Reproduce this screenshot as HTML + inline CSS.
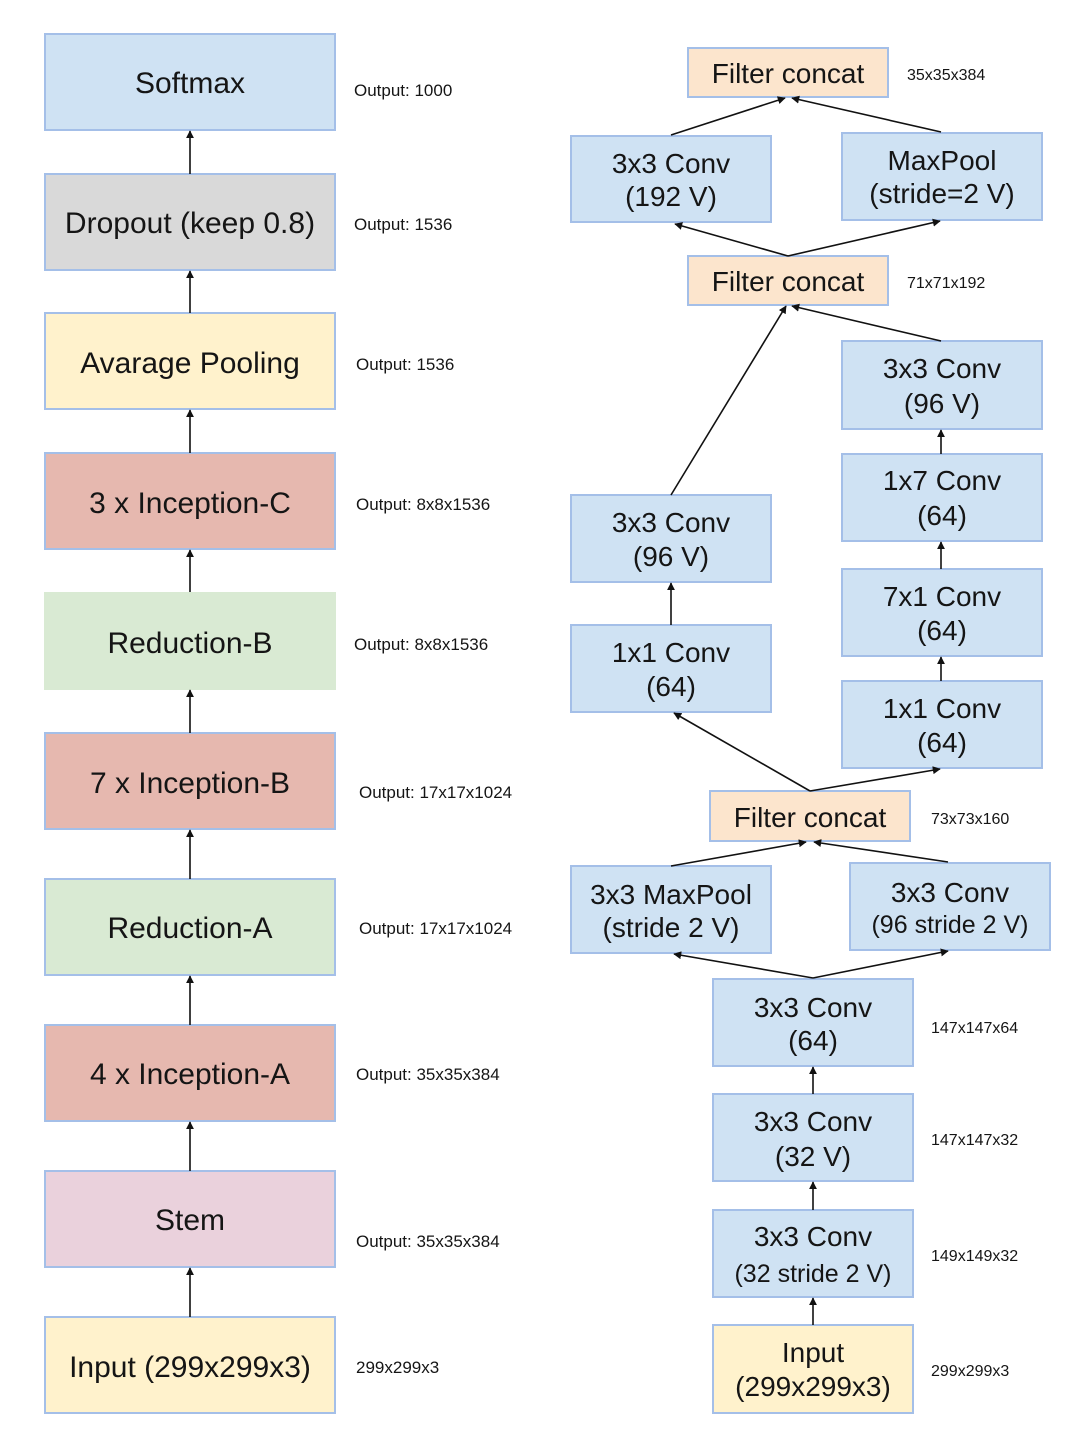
<!DOCTYPE html>
<html><head><meta charset="utf-8"><style>
html,body{margin:0;padding:0;background:#fff;}
svg{display:block;}
text{font-family:"Liberation Sans",sans-serif;fill:#151515;}
.b{font-size:30px;text-anchor:middle;}
.r{font-size:28px;text-anchor:middle;}
.s{font-size:17px;}
.t{font-size:16px;}
line{stroke:#111;stroke-width:1.6;}
</style></head><body>
<svg width="1066" height="1430" viewBox="0 0 1066 1430" xmlns="http://www.w3.org/2000/svg">
<defs>
<marker id="a" viewBox="0 0 10 10" refX="9" refY="5" markerWidth="5" markerHeight="5" orient="auto"><path d="M0,0 L10,5 L0,10 z" fill="#111"/></marker>
</defs>
<g stroke="#a4bfe8" stroke-width="2">
<rect x="45" y="34" width="290" height="96" fill="#cfe2f3"/>
<rect x="45" y="174" width="290" height="96" fill="#d9d9d9"/>
<rect x="45" y="313" width="290" height="96" fill="#fff2cc"/>
<rect x="45" y="453" width="290" height="96" fill="#e6b8af"/>
<rect x="44" y="592" width="292" height="98" fill="#d9ead3" stroke="none"/>
<rect x="45" y="733" width="290" height="96" fill="#e6b8af"/>
<rect x="45" y="879" width="290" height="96" fill="#d9ead3"/>
<rect x="45" y="1025" width="290" height="96" fill="#e6b8af"/>
<rect x="45" y="1171" width="290" height="96" fill="#ead1dc"/>
<rect x="45" y="1317" width="290" height="96" fill="#fff2cc"/>

<rect x="688" y="48" width="200" height="49" fill="#fce5cd"/>
<rect x="571" y="136" width="200" height="86" fill="#cfe2f3"/>
<rect x="842" y="133" width="200" height="87" fill="#cfe2f3"/>
<rect x="688" y="256" width="200" height="49" fill="#fce5cd"/>
<rect x="842" y="341" width="200" height="88" fill="#cfe2f3"/>
<rect x="842" y="454" width="200" height="87" fill="#cfe2f3"/>
<rect x="842" y="569" width="200" height="87" fill="#cfe2f3"/>
<rect x="842" y="681" width="200" height="87" fill="#cfe2f3"/>
<rect x="571" y="495" width="200" height="87" fill="#cfe2f3"/>
<rect x="571" y="625" width="200" height="87" fill="#cfe2f3"/>
<rect x="710" y="791" width="200" height="50" fill="#fce5cd"/>
<rect x="571" y="866" width="200" height="87" fill="#cfe2f3"/>
<rect x="850" y="863" width="200" height="87" fill="#cfe2f3"/>
<rect x="713" y="979" width="200" height="87" fill="#cfe2f3"/>
<rect x="713" y="1094" width="200" height="87" fill="#cfe2f3"/>
<rect x="713" y="1210" width="200" height="87" fill="#cfe2f3"/>
<rect x="713" y="1325" width="200" height="88" fill="#fff2cc"/>
</g>
<g marker-end="url(#a)">
<line x1="190" y1="174" x2="190" y2="131"/>
<line x1="190" y1="313" x2="190" y2="271"/>
<line x1="190" y1="453" x2="190" y2="410"/>
<line x1="190" y1="592" x2="190" y2="550"/>
<line x1="190" y1="733" x2="190" y2="690"/>
<line x1="190" y1="879" x2="190" y2="830"/>
<line x1="190" y1="1025" x2="190" y2="976"/>
<line x1="190" y1="1171" x2="190" y2="1122"/>
<line x1="190" y1="1317" x2="190" y2="1268"/>

<line x1="671" y1="135" x2="785" y2="98"/>
<line x1="941" y1="132" x2="792" y2="98"/>
<line x1="788" y1="256" x2="675" y2="224"/>
<line x1="788" y1="256" x2="940" y2="221"/>
<line x1="671" y1="495" x2="786" y2="306"/>
<line x1="941" y1="341" x2="792" y2="306"/>
<line x1="941" y1="454" x2="941" y2="430"/>
<line x1="941" y1="569" x2="941" y2="542"/>
<line x1="941" y1="681" x2="941" y2="657"/>
<line x1="671" y1="625" x2="671" y2="583"/>
<line x1="810" y1="791" x2="674" y2="713"/>
<line x1="810" y1="791" x2="940" y2="769"/>
<line x1="671" y1="866" x2="806" y2="842"/>
<line x1="948" y1="862" x2="814" y2="842"/>
<line x1="813" y1="978" x2="674" y2="954"/>
<line x1="813" y1="978" x2="948" y2="951"/>
<line x1="813" y1="1094" x2="813" y2="1067"/>
<line x1="813" y1="1210" x2="813" y2="1182"/>
<line x1="813" y1="1325" x2="813" y2="1298"/>
</g>
<text class="b" x="190" y="93">Softmax</text>
<text class="b" x="190" y="233">Dropout (keep 0.8)</text>
<text class="b" x="190" y="373">Avarage Pooling</text>
<text class="b" x="190" y="513">3 x Inception-C</text>
<text class="b" x="190" y="653">Reduction-B</text>
<text class="b" x="190" y="793">7 x Inception-B</text>
<text class="b" x="190" y="938">Reduction-A</text>
<text class="b" x="190" y="1084">4 x Inception-A</text>
<text class="b" x="190" y="1230">Stem</text>
<text class="b" x="190" y="1377">Input (299x299x3)</text>

<text class="s" x="354" y="96">Output: 1000</text>
<text class="s" x="354" y="230">Output: 1536</text>
<text class="s" x="356" y="370">Output: 1536</text>
<text class="s" x="356" y="510">Output: 8x8x1536</text>
<text class="s" x="354" y="650">Output: 8x8x1536</text>
<text class="s" x="359" y="798">Output: 17x17x1024</text>
<text class="s" x="359" y="934">Output: 17x17x1024</text>
<text class="s" x="356" y="1080">Output: 35x35x384</text>
<text class="s" x="356" y="1247">Output: 35x35x384</text>
<text class="s" x="356" y="1373">299x299x3</text>

<text class="r" x="788" y="83">Filter concat</text>
<text class="r" x="671" y="173">3x3 Conv</text><text class="r" x="671" y="206">(192 V)</text>
<text class="r" x="942" y="170">MaxPool</text><text class="r" x="942" y="203">(stride=2 V)</text>
<text class="r" x="788" y="291">Filter concat</text>
<text class="r" x="942" y="378">3x3 Conv</text><text class="r" x="942" y="413">(96 V)</text>
<text class="r" x="942" y="490">1x7 Conv</text><text class="r" x="942" y="525">(64)</text>
<text class="r" x="942" y="606">7x1 Conv</text><text class="r" x="942" y="640">(64)</text>
<text class="r" x="942" y="718">1x1 Conv</text><text class="r" x="942" y="752">(64)</text>
<text class="r" x="671" y="532">3x3 Conv</text><text class="r" x="671" y="566">(96 V)</text>
<text class="r" x="671" y="662">1x1 Conv</text><text class="r" x="671" y="696">(64)</text>
<text class="r" x="810" y="827">Filter concat</text>
<text class="r" x="671" y="904">3x3 MaxPool</text><text class="r" x="671" y="937">(stride 2 V)</text>
<text class="r" x="950" y="902">3x3 Conv</text><text class="r" x="950" y="933" style="font-size:25px">(96 stride 2 V)</text>
<text class="r" x="813" y="1017">3x3 Conv</text><text class="r" x="813" y="1050">(64)</text>
<text class="r" x="813" y="1131">3x3 Conv</text><text class="r" x="813" y="1166">(32 V)</text>
<text class="r" x="813" y="1246">3x3 Conv</text><text class="r" x="813" y="1282" style="font-size:25px">(32 stride 2 V)</text>
<text class="r" x="813" y="1362">Input</text><text class="r" x="813" y="1396">(299x299x3)</text>

<text class="t" x="907" y="80">35x35x384</text>
<text class="t" x="907" y="288">71x71x192</text>
<text class="t" x="931" y="824">73x73x160</text>
<text class="t" x="931" y="1033">147x147x64</text>
<text class="t" x="931" y="1145">147x147x32</text>
<text class="t" x="931" y="1261">149x149x32</text>
<text class="t" x="931" y="1376">299x299x3</text>
</svg>
</body></html>
